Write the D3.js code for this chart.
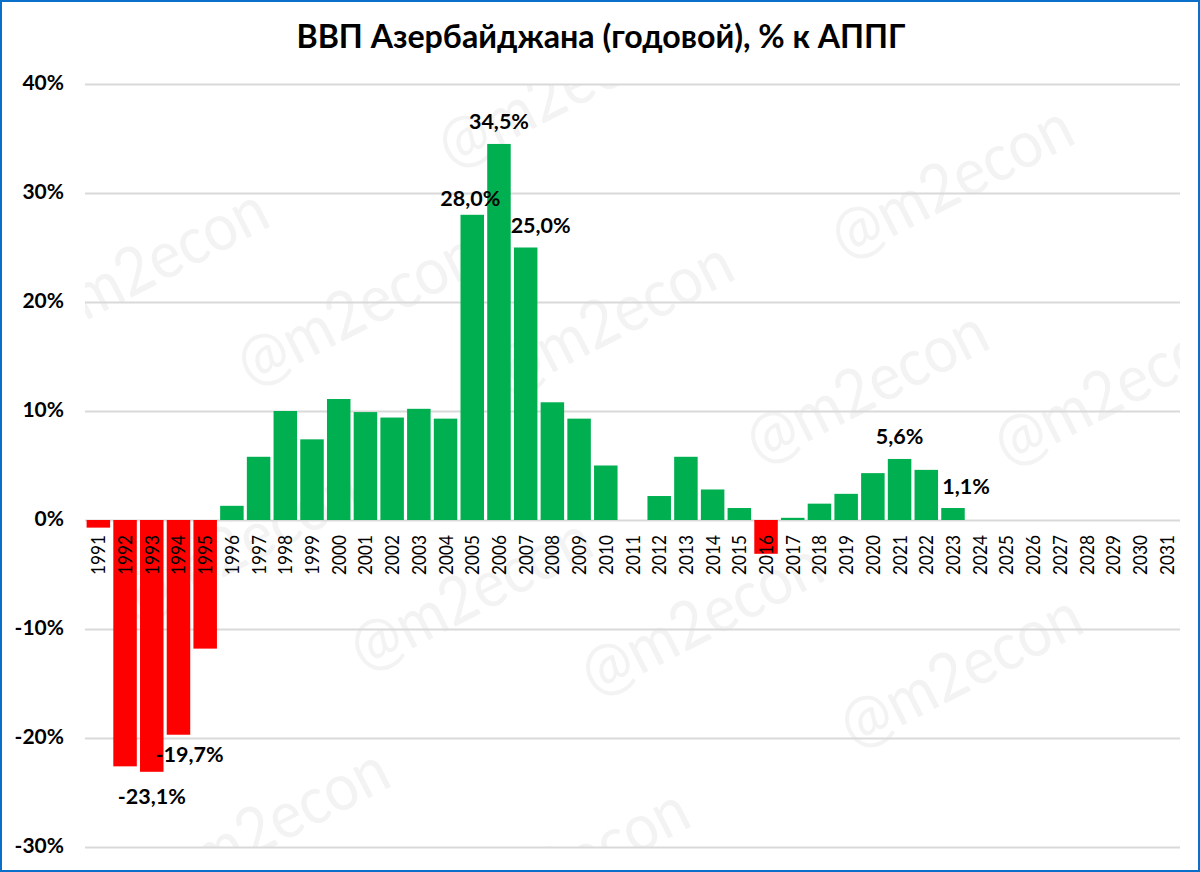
<!DOCTYPE html>
<html><head><meta charset="utf-8">
<script src="https://cdnjs.cloudflare.com/ajax/libs/d3/7.8.5/d3.min.js"></script>
<style>html,body{margin:0;padding:0;background:#fff}svg{display:block}text{font-family:Lato,"Open Sans",sans-serif}</style>
</head><body><svg id="c" width="1200" height="872"></svg>
<script>
const titleText = "ВВП Азербайджана (годовой), % к АППГ";
const years = d3.range(1991, 2032).map(String);
const values = [-0.7,-22.6,-23.1,-19.7,-11.8,1.3,5.8,10.0,7.4,11.1,9.9,9.4,10.2,9.3,28.0,34.5,25.0,10.8,9.3,5.0,null,2.2,5.8,2.8,1.1,-3.1,0.2,1.5,2.4,4.3,5.6,4.6,1.1,null,null,null,null,null,null,null,null];
const yTicks = [-30,-20,-10,0,10,20,30,40];
const labelled = ["1993","1994","2005","2006","2007","2021","2023"];
const watermarkText = "@m2econ";
const watermarkAnchors = [[35,356],[246,400],[447,182],[500,409],[840,273],[755,478],[1003,480],[127,636],[359,685],[590,710],[849,762],[156,916],[456,956]];

const svg = d3.select("#c");
const x = d3.scaleBand().domain(years).range([85,1180]).paddingInner(0.12).paddingOuter(0.06);
const y = d3.scaleLinear().domain([-30,40]).range([847,84]);
const fmt = v => d3.format(".1f")(v).replace(".",",").replace("−","-")+"%";

svg.append("rect").attr("x",1).attr("y",1).attr("width",1198).attr("height",870).attr("fill","#fff").attr("stroke","#0a6fc9").attr("stroke-width",2);

svg.append("clipPath").attr("id","plotClip").append("rect").attr("x",85).attr("y",84).attr("width",1095).attr("height",763);
svg.append("g").attr("clip-path","url(#plotClip)").selectAll("text").data(watermarkAnchors).join("text")
 .attr("transform",d=>`translate(${d[0]+5},${d[1]-12}) rotate(-27)`)
 .attr("font-size",66).attr("textLength",262).attr("lengthAdjust","spacingAndGlyphs")
 .attr("fill","#f3f3f3").text(watermarkText);

const gridAxis = d3.axisLeft(y).tickValues(yTicks).tickSize(-1095).tickPadding(21).tickFormat(d=>d+"%");
const gy = svg.append("g").attr("transform","translate(85,0)").call(gridAxis);
gy.select(".domain").remove();
gy.selectAll("line").attr("stroke","#d9d9d9").attr("stroke-width",2);
gy.selectAll("text").attr("font-size",21).attr("font-weight",700).attr("fill","#000").attr("dy","0.28em");

svg.append("g").selectAll("rect").data(values.map((v,i)=>({v,year:years[i]})).filter(d=>d.v!==null)).join("rect")
 .attr("x",d=>x(d.year)).attr("width",x.bandwidth())
 .attr("y",d=>Math.min(y(d.v),y(0))).attr("height",d=>Math.abs(y(d.v)-y(0)))
 .attr("fill",d=>d.v<0?"#ff0000":"#00b050");

const gx = svg.append("g").attr("transform",`translate(0,${y(0)})`).call(d3.axisBottom(x).tickSize(0).tickPadding(0));
gx.select(".domain").remove();
gx.selectAll("text").attr("transform",`translate(0,35) rotate(-90) scale(0.86,1)`).attr("text-anchor","middle").attr("dy","0.35em").attr("y",0).attr("font-size",20).attr("font-weight",400).attr("fill","#000");

const labelOffset = {"1993":[0,32],"1994":[11,27],"2005":[-2,-9],"2006":[0,-15],"2007":[15,-15],"2021":[0,-15],"2023":[13,-14]};
svg.append("g").selectAll("text").data(values.map((v,i)=>({v,year:years[i]})).filter(d=>labelled.includes(d.year))).join("text")
 .attr("x",d=>x(d.year)+x.bandwidth()/2+labelOffset[d.year][0])
 .attr("y",d=>y(d.v)+labelOffset[d.year][1])
 .attr("text-anchor","middle").attr("font-size",21.5).attr("font-weight",700).attr("fill","#000")
 .text(d=>fmt(d.v));

svg.append("text").attr("x",601).attr("y",48).attr("text-anchor","middle").attr("font-size",32.2).attr("font-weight",700).attr("fill","#000").text(titleText);
</script></body></html>
